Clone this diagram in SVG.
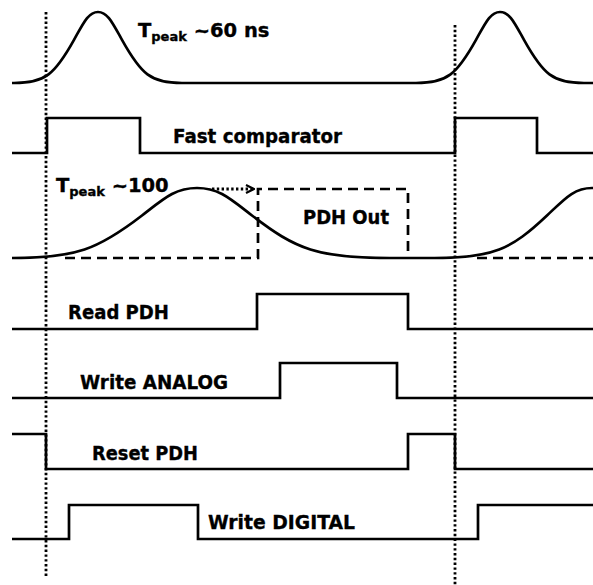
<svg xmlns="http://www.w3.org/2000/svg" width="593" height="585" viewBox="0 0 593 585">
<defs>
<style>
.sig{fill:none;stroke:#000;stroke-width:2.7;stroke-linejoin:miter}
.dash{fill:none;stroke:#000;stroke-width:2.7;stroke-dasharray:10 6}
.dot{fill:none;stroke:#000;stroke-width:2.8;stroke-dasharray:2.4 2.4}
.lbl{font-family:"DejaVu Sans",Verdana,sans-serif;font-weight:bold;font-size:19.5px;fill:#000;stroke:#000;stroke-width:0.35}
.sub{font-size:13px}
</style>
<marker id="open" viewBox="0 0 10 10" refX="9" refY="5" markerWidth="10" markerHeight="10" markerUnits="userSpaceOnUse" orient="auto">
<path d="M1 1 L9 5 L1 9" fill="none" stroke="#000" stroke-width="2.2"/>
</marker>
</defs>
<rect width="593" height="585" fill="#fff"/>
<g id="guides">
<line class="dot" x1="46" y1="12" x2="46" y2="576"/>
<line class="dot" x1="455" y1="25" x2="455" y2="585"/>
</g>
<g id="shaper-fast">
<path class="sig" d="M12 83 L14 83 C45.2 83 54.8 74.4 74 39.9 C83.6 22.65 88.4 12 98 12 C107.6 12 112.4 22.65 122 39.9 C141.2 74.4 150.8 83 182 83 L416 83 C447.2 83 456.8 74.4 476 39.9 C485.6 22.65 490.4 12 500 12 C509.6 12 514.4 22.65 524 39.9 C543.2 74.4 552.8 83 584 83 L593 83"/>
<text class="lbl" x="138" y="37">T<tspan class="sub" dy="4">peak</tspan><tspan dy="-4"> ~60 ns</tspan></text>
</g>
<g id="fast-comparator">
<path class="sig" d="M12 153 H47 V118 H140 V153 H455 V118 H537 V153 H593"/>
<text class="lbl" x="173" y="143" textLength="169" lengthAdjust="spacingAndGlyphs">Fast comparator</text>
</g>
<g id="shaper-slow">
<path class="sig" d="M12 258 C76 258 98 249.5 142 215.5 C164 198.5 175 188 197 188 C219 188 230 198.5 252 215.5 C296 249.5 318 258 389.5 258 L434.5 258 C493 258 511 249.5 547 215.5 C565 198.5 574 188 592 188 L594 188"/>
<text class="lbl" x="56" y="192">T<tspan class="sub" dy="4">peak</tspan><tspan dy="-4"> ~100</tspan></text>
</g>
<g id="pdh-out">
<path class="dash" d="M65 258 H258 V189 H408 V258"/>
<path class="dash" d="M477 258 H593"/>
<text class="lbl" x="303" y="224" textLength="86" lengthAdjust="spacingAndGlyphs">PDH Out</text>
</g>
<g id="read-pdh">
<path class="sig" d="M12 329 H257 V294 H408 V329 H593"/>
<text class="lbl" x="68" y="319" textLength="101" lengthAdjust="spacingAndGlyphs">Read PDH</text>
</g>
<g id="write-analog">
<path class="sig" d="M12 398 H280 V363 H397 V398 H593"/>
<text class="lbl" x="80" y="389" textLength="148" lengthAdjust="spacingAndGlyphs">Write ANALOG</text>
</g>
<g id="reset-pdh">
<path class="sig" d="M12 434 H46 V469 H408 V434 H455 V469 H593"/>
<text class="lbl" x="92" y="460" textLength="106" lengthAdjust="spacingAndGlyphs">Reset PDH</text>
</g>
<g id="write-digital">
<path class="sig" d="M12 539 H69 V505 H198 V539 H478 V505 H593"/>
<text class="lbl" x="208" y="529" textLength="147" lengthAdjust="spacingAndGlyphs">Write DIGITAL</text>
</g>
<g id="connectors">
<line class="dot" x1="212" y1="189" x2="254" y2="189" marker-end="url(#open)"/>
</g>
</svg>
